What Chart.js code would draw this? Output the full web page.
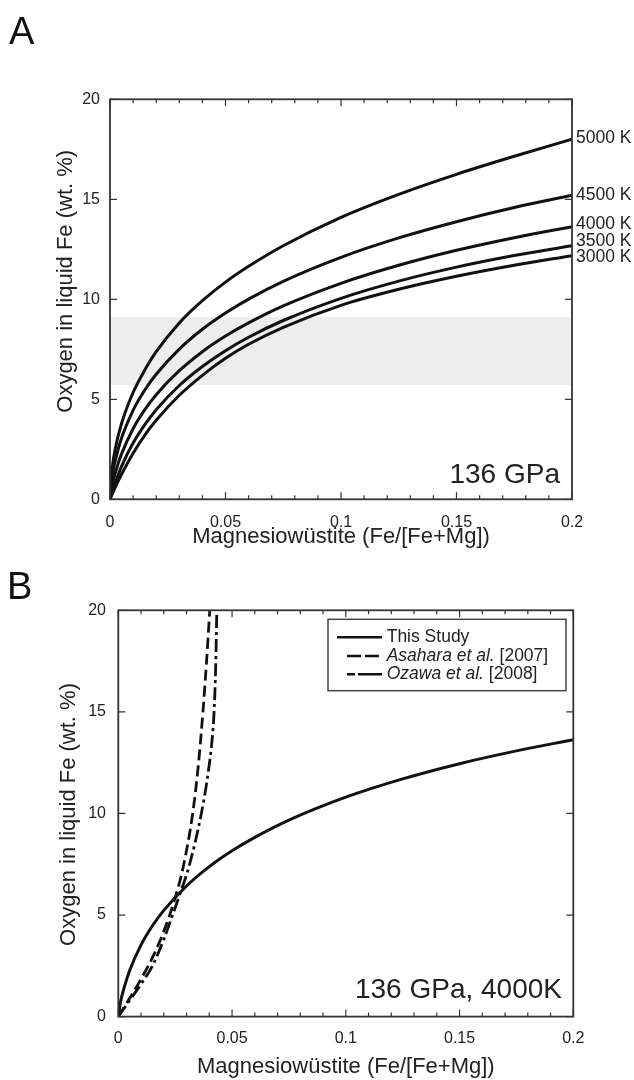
<!DOCTYPE html>
<html>
<head>
<meta charset="utf-8">
<script src="https://cdn.jsdelivr.net/npm/chart.js@4.4.0/dist/chart.umd.min.js"></script>
<style>
html,body{margin:0;padding:0;background:#fff;width:634px;height:1080px;overflow:hidden;}
.panel{position:absolute;left:0;width:634px;}
#wrapA{top:0;height:560px;}
#wrapB{top:560px;height:520px;}
.letter{position:absolute;font-family:"Liberation Sans",Arial,Helvetica,sans-serif;font-size:38px;color:#111;line-height:1;z-index:2;}
</style>
</head>
<body>
<div class="panel" id="wrapA"><canvas id="chartA" width="634" height="560"></canvas></div>
<div class="panel" id="wrapB"><canvas id="chartB" width="634" height="520"></canvas></div>
<div class="letter" style="left:9px;top:12px">A</div>
<div class="letter" style="left:7px;top:567px">B</div>
<script>
// ---------- data ----------
const xTickValues = [0, 0.05, 0.1, 0.15, 0.2];
const xTickLabels = ['0', '0.05', '0.1', '0.15', '0.2'];
const yTickValues = [0, 5, 10, 15, 20];
const yTickLabels = ['0', '5', '10', '15', '20'];
const xMinorStep = 0.01;

const xTitle = 'Magnesiowüstite (Fe/[Fe+Mg])';
const yTitle = 'Oxygen in liquid Fe (wt. %)';

// Panel A: oxygen in liquid Fe vs Mw composition at 136 GPa
const xA    = [0, 0.001, 0.0025, 0.005, 0.01, 0.015, 0.02, 0.03, 0.04, 0.05, 0.06, 0.075, 0.1, 0.125, 0.15, 0.175, 0.2];
const t5000 = [0, 1.58, 2.64, 3.79, 5.34, 6.45, 7.38, 8.82, 9.93, 10.86, 11.65, 12.68, 14.1, 15.25, 16.25, 17.15, 18.0];
const t4500 = [0, 1.18, 2.03, 3.06, 4.45, 5.45, 6.25, 7.51, 8.50, 9.31, 10.01, 10.90, 12.1, 13.07, 13.88, 14.59, 15.2];
const t4000 = [0, 0.73, 1.40, 2.27, 3.53, 4.47, 5.23, 6.43, 7.38, 8.16, 8.82, 9.67, 10.8, 11.70, 12.45, 13.08, 13.63];
const t3500 = [0, 0.40, 0.90, 1.65, 2.81, 3.72, 4.48, 5.69, 6.64, 7.43, 8.10, 8.94, 10.05, 10.91, 11.61, 12.19, 12.68];
const t3000 = [0, 0.27, 0.66, 1.25, 2.30, 3.20, 3.95, 5.20, 6.20, 7.05, 7.75, 8.60, 9.70, 10.50, 11.15, 11.70, 12.18];
const tempNames  = ['5000 K', '4500 K', '4000 K', '3500 K', '3000 K'];
const tempLabelY = [18.05, 15.2, 13.77, 12.93, 12.1];
const bandX = [0, 0.2];
const bandTop = [9.1, 9.1];
const bandBottom = [5.72, 5.72];
const labelA = '136 GPa';

// Panel B: comparison at 136 GPa, 4000 K
const xThis = xA;
const yThis = t4000;
const xAsahara = [0, 0.005, 0.01, 0.015, 0.02, 0.025, 0.0286, 0.0327, 0.0352, 0.0372, 0.0388, 0.0402];
const yAsahara = [0, 0.9, 1.85, 2.9, 4.2, 5.85, 7.4, 10.0, 12.4, 15.0, 17.5, 20];
const xOzawa = [0, 0.005, 0.01, 0.015, 0.02, 0.0237, 0.027, 0.0311, 0.0365, 0.0395, 0.0412, 0.0421, 0.0428, 0.0433];
const yOzawa = [0, 0.8, 1.6, 2.5, 3.8, 4.95, 6.0, 7.4, 10.0, 12.0, 13.6, 15.0, 17.2, 20];
const legendItalic = ['', 'Asahara et al.', 'Ozawa et al.'];
const legendPlain  = ['This Study', ' [2007]', ' [2008]'];
const labelB = '136 GPa, 4000K';

// ---------- helpers ----------
const FONT = '"Liberation Sans", Arial, Helvetica, sans-serif';
const INK = '#222';
const pts = (xs, ys) => xs.map((x, i) => ({x: x, y: ys[i]}));

const framePlugin = {
  id: 'frameTicks',
  afterDatasetsDraw(chart) {
    const {ctx, chartArea: a} = chart;
    const xs = chart.scales.x, ys = chart.scales.y;
    ctx.save();
    ctx.strokeStyle = '#333';
    ctx.lineWidth = 1.2;
    ctx.beginPath();
    const n = Math.round((xs.max - xs.min) / xMinorStep);
    for (let i = 0; i <= n; i++) {
      const v = xs.min + i * xMinorStep;
      const major = xTickValues.some(t => Math.abs(t - v) < 1e-9);
      const len = major ? 7 : 4;
      const px = xs.getPixelForValue(v);
      ctx.moveTo(px, a.bottom); ctx.lineTo(px, a.bottom - len);
      ctx.moveTo(px, a.top); ctx.lineTo(px, a.top + len);
    }
    for (const v of yTickValues) {
      const py = ys.getPixelForValue(v);
      ctx.moveTo(a.left, py); ctx.lineTo(a.left + 7, py);
      ctx.moveTo(a.right, py); ctx.lineTo(a.right - 7, py);
    }
    ctx.stroke();
    ctx.lineWidth = 1.8;
    ctx.strokeRect(a.left, a.top, a.right - a.left, a.bottom - a.top);
    ctx.restore();
  }
};

// rotated y-axis title placed relative to the plot area
function yTitlePlugin(cx, dy) {
  return {
    id: 'yTitle',
    afterDraw(chart) {
      const {ctx, chartArea: a} = chart;
      ctx.save();
      ctx.translate(cx, (a.top + a.bottom) / 2 + dy);
      ctx.rotate(-Math.PI / 2);
      ctx.fillStyle = INK;
      ctx.font = '22px ' + FONT;
      ctx.textAlign = 'center';
      ctx.textBaseline = 'middle';
      ctx.fillText(yTitle, 0, 0);
      ctx.restore();
    }
  };
}

function makeScales(o) {
  return {
    x: {
      type: 'linear', min: 0, max: 0.2,
      afterBuildTicks: s => { s.ticks = xTickValues.map(v => ({value: v})); },
      afterFit: s => { s.height = o.xHeight; },
      ticks: { autoSkip: false, maxRotation: 0, padding: o.xTickPad, color: INK,
               font: {family: FONT, size: 16},
               callback: (v, i) => xTickLabels[i] },
      grid: { display: false, drawTicks: false },
      border: { display: false },
      title: { display: true, text: xTitle, color: INK, font: {family: FONT, size: 22},
               padding: {top: 0, bottom: o.xTitlePad} }
    },
    y: {
      type: 'linear', min: 0, max: 20,
      afterBuildTicks: s => { s.ticks = yTickValues.map(v => ({value: v})); },
      afterFit: s => { s.width = o.yWidth; },
      ticks: { padding: o.yTickPad, color: INK, font: {family: FONT, size: 16},
               callback: (v, i) => yTickLabels[i] },
      grid: { display: false, drawTicks: false },
      border: { display: false },
      title: { display: false, text: yTitle }
    }
  };
}

const lineStyle = {
  showLine: true, pointRadius: 0, pointHoverRadius: 0, borderColor: '#111',
  borderWidth: 3, fill: false, cubicInterpolationMode: 'monotone'
};

// ---------- Panel A ----------
const seriesA = [t5000, t4500, t4000, t3500, t3000];
const annotA = {
  id: 'annotA',
  afterDraw(chart) {
    const {ctx, chartArea: a} = chart;
    const y = chart.scales.y;
    ctx.save();
    ctx.fillStyle = INK;
    ctx.font = '17.5px ' + FONT;
    ctx.textAlign = 'left';
    ctx.textBaseline = 'middle';
    tempNames.forEach((t, i) => ctx.fillText(t, a.right + 4, y.getPixelForValue(tempLabelY[i])));
    ctx.font = '28px ' + FONT;
    ctx.textAlign = 'right';
    ctx.textBaseline = 'alphabetic';
    ctx.fillText(labelA, a.right - 12, a.bottom - 16);
    ctx.restore();
  }
};

new Chart(document.getElementById('chartA'), {
  type: 'scatter',
  data: {
    datasets: [
      ...seriesA.map((s, i) => Object.assign({label: tempNames[i], data: pts(xA, s)}, lineStyle)),
      { label: 'band top', data: pts(bandX, bandTop), showLine: true, pointRadius: 0,
        borderWidth: 0, borderColor: 'rgba(0,0,0,0)', backgroundColor: '#ededed', fill: '+1', order: 5 },
      { label: 'band bottom', data: pts(bandX, bandBottom), showLine: true, pointRadius: 0,
        borderWidth: 0, borderColor: 'rgba(0,0,0,0)', fill: false, order: 5 }
    ]
  },
  options: {
    responsive: false, animation: false, events: [],
    layout: { padding: {top: 99.3, right: 62, left: 0, bottom: 0} },
    scales: makeScales({xHeight: 60.7, xTickPad: 13.4, xTitlePad: 10, yWidth: 110, yTickPad: 10}),
    plugins: { legend: {display: false}, tooltip: {enabled: false} }
  },
  plugins: [framePlugin, annotA, yTitlePlugin(66, -18)]
});

// ---------- Panel B ----------
const legendB = {
  id: 'legendB',
  afterDraw(chart) {
    const {ctx, chartArea: a} = chart;
    const bx = a.left + 209.7, by = a.top + 9, bw = 238, bh = 71.4;
    ctx.save();
    ctx.fillStyle = '#fff';
    ctx.fillRect(bx, by, bw, bh);
    ctx.strokeStyle = '#444';
    ctx.lineWidth = 1.5;
    ctx.strokeRect(bx, by, bw, bh);
    const rowY = [by + 18, by + 36.7, by + 55];
    const dashes = [[], [14, 4], [8, 3, 24, 4]];
    const starts = [bx + 9, bx + 19, bx + 19];
    ctx.strokeStyle = '#111';
    ctx.lineWidth = 2.6;
    for (let i = 0; i < 3; i++) {
      ctx.setLineDash(dashes[i]);
      ctx.beginPath();
      ctx.moveTo(starts[i], rowY[i]);
      ctx.lineTo(bx + 54, rowY[i]);
      ctx.stroke();
    }
    ctx.setLineDash([]);
    ctx.fillStyle = INK;
    ctx.textBaseline = 'middle';
    ctx.textAlign = 'left';
    for (let i = 0; i < 3; i++) {
      let x = bx + 58.7;
      if (legendItalic[i]) {
        ctx.font = 'italic 17.5px ' + FONT;
        ctx.fillText(legendItalic[i], x, rowY[i]);
        x += ctx.measureText(legendItalic[i]).width;
      }
      ctx.font = '17.5px ' + FONT;
      ctx.fillText(legendPlain[i], x, rowY[i]);
    }
    ctx.font = '28px ' + FONT;
    ctx.textAlign = 'right';
    ctx.textBaseline = 'alphabetic';
    ctx.fillText(labelB, a.right - 11.3, a.bottom - 18.6);
    ctx.restore();
  }
};

new Chart(document.getElementById('chartB'), {
  type: 'scatter',
  data: {
    datasets: [
      Object.assign({label: 'This Study', data: pts(xThis, yThis)}, lineStyle),
      Object.assign({label: 'Asahara et al. [2007]', data: pts(xAsahara, yAsahara)}, lineStyle,
                    {borderWidth: 2.8, borderDash: [11, 5]}),
      Object.assign({label: 'Ozawa et al. [2008]', data: pts(xOzawa, yOzawa)}, lineStyle,
                    {borderWidth: 2.8, borderDash: [13, 4, 3, 4]})
    ]
  },
  options: {
    responsive: false, animation: false, events: [],
    layout: { padding: {top: 50.3, right: 60.7, left: 0, bottom: 0} },
    scales: makeScales({xHeight: 63.4, xTickPad: 12.8, xTitlePad: 0, yWidth: 118.3, yTickPad: 12.3}),
    plugins: { legend: {display: false}, tooltip: {enabled: false} }
  },
  plugins: [framePlugin, legendB, yTitlePlugin(69, 1)]
});
</script>
</body>
</html>
